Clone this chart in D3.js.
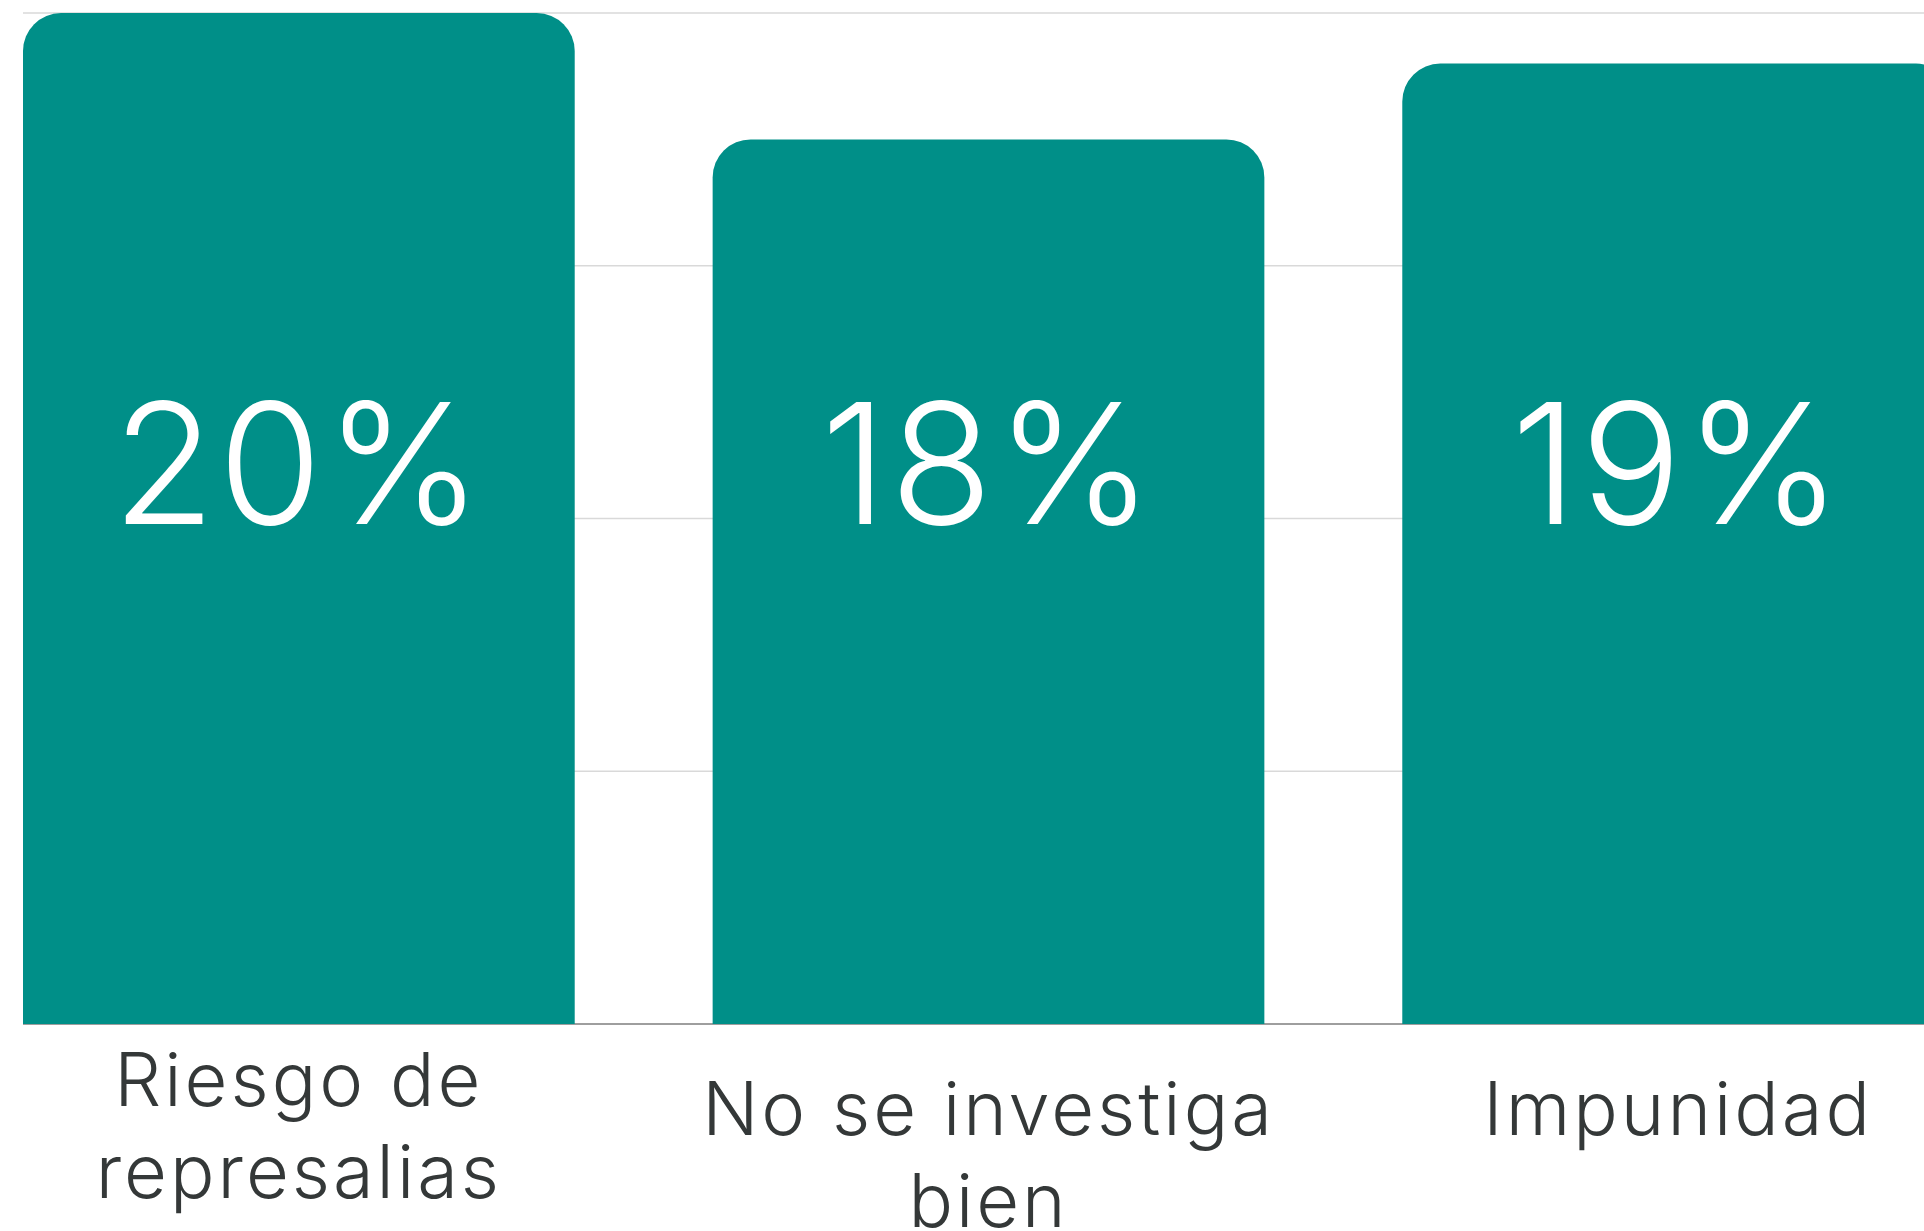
<!DOCTYPE html>
<html>
<head>
<meta charset="utf-8">
<script src="https://cdn.jsdelivr.net/npm/d3@7"></script>
<style>
  html, body { margin: 0; padding: 0; background: #fff; overflow: hidden; }
  .grid line { stroke: #d9d9d9; stroke-width: 1.5; }
  .baseline { stroke: #9e9e9e; stroke-width: 2; }
  .bar { fill: #008f88; }
  .value { fill: #fff; font-family: Inter, "Open Sans", sans-serif; font-weight: 300; letter-spacing: 3px; }
  .cat { fill: #343838; font-family: Inter, "Open Sans", sans-serif; font-weight: 300; letter-spacing: 3px; }
</style>
</head>
<body>
<script>
//chart data
var categories = ["Riesgo de represalias", "No se investiga bien", "Impunidad"];
var values = [20, 17.5, 19];
var valueLabels = ["20%", "18%", "19%"];
var labelLines = [["Riesgo de", "represalias"], ["No se investiga", "bien"], ["Impunidad"]];
var yTicks = [0, 5, 10, 15, 20];

window.onload = drawChart();

function drawChart(){
    var width = 1924,
        height = 1231;

    var svg = d3.select("body")
        .append("svg")
        .attr("width", width)
        .attr("height", height);

    //band scale runs past the right edge, like the original crop
    var x = d3.scaleBand()
        .domain(categories)
        .range([23, 1954])
        .paddingInner(0.2)
        .paddingOuter(0);

    var y = d3.scaleLinear()
        .domain([0, 20])
        .range([1024, 13]);

    //horizontal gridlines
    svg.append("g")
        .attr("class", "grid")
        .selectAll("line")
        .data(yTicks.filter(function(d){ return d > 0; }))
        .enter()
        .append("line")
        .attr("x1", x.range()[0])
        .attr("x2", width)
        .attr("y1", function(d){ return y(d); })
        .attr("y2", function(d){ return y(d); });

    //bars with rounded top corners
    function barPath(d, i){
        var x0 = x(categories[i]),
            w = x.bandwidth(),
            top = y(d),
            bot = y(0),
            r = Math.min(38, w / 2, bot - top);
        return "M" + x0 + "," + bot +
            "V" + (top + r) +
            "A" + r + "," + r + " 0 0 1 " + (x0 + r) + "," + top +
            "H" + (x0 + w - r) +
            "A" + r + "," + r + " 0 0 1 " + (x0 + w) + "," + (top + r) +
            "V" + bot + "Z";
    }

    svg.selectAll(".bar")
        .data(values)
        .enter()
        .append("path")
        .attr("class", "bar")
        .attr("d", barPath);

    //axis baseline (only visible between bars)
    svg.append("line")
        .attr("class", "baseline")
        .attr("x1", x.range()[0])
        .attr("x2", width)
        .attr("y1", y(0))
        .attr("y2", y(0))
        .lower();

    //value labels, all on one line across the chart
    svg.selectAll(".value")
        .data(valueLabels)
        .enter()
        .append("text")
        .attr("class", "value")
        .attr("x", function(d, i){ return x(categories[i]) + x.bandwidth() / 2; })
        .attr("y", y(10) + 5)
        .attr("text-anchor", "middle")
        .style("font-size", "168px")
        .text(function(d){ return d; });

    //category labels under the bars
    var lineHeight = 92;
    var firstLine = [y(0) + 82, y(0) + 111, y(0) + 111];
    var cats = svg.selectAll(".cat")
        .data(labelLines)
        .enter()
        .append("text")
        .attr("class", "cat")
        .attr("text-anchor", "middle")
        .style("font-size", "74px")
        .attr("transform", function(d, i){
            return "translate(" + (x(categories[i]) + x.bandwidth() / 2) + "," + firstLine[i] + ")";
        });

    cats.selectAll("tspan")
        .data(function(d){ return d; })
        .enter()
        .append("tspan")
        .attr("x", 0)
        .attr("y", function(d, j){ return j * lineHeight; })
        .text(function(d){ return d; });
}
</script>
</body>
</html>
